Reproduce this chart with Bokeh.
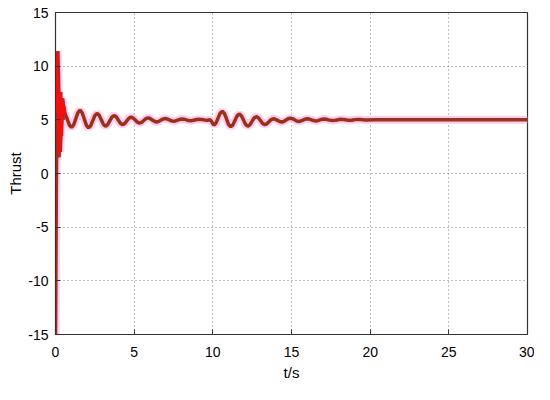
from bokeh.plotting import figure
from bokeh.models import Range1d, FixedTicker, PrintfTickFormatter
from bokeh.embed import file_html
from bokeh.resources import INLINE

# Main response (brown)
t_main = [0.0, 0.06, 0.15, 0.30, 0.45, 0.55, 0.62, 0.75, 0.885,
          1.02, 1.155, 1.29, 1.425, 1.56, 1.695, 1.83, 1.965,
          2.10, 2.235, 2.37, 2.505, 2.64, 2.775, 2.91, 3.045,
          3.18, 3.315, 3.45, 3.585, 3.72, 3.855, 3.99, 4.125,
          4.26, 4.395, 4.53, 4.665, 4.80, 4.935, 5.07, 5.205,
          5.34, 5.475, 5.61, 5.745, 5.88, 6.015, 6.15, 6.285,
          6.42, 6.555, 6.69, 6.825, 6.96, 7.095, 7.23, 7.365,
          7.50, 7.635, 7.77, 7.905, 8.04, 8.175, 8.31, 8.445,
          8.58, 8.715, 8.85, 8.985, 9.12, 9.255, 9.39, 9.525,
          9.66, 9.85,
          10.06, 10.195, 10.33, 10.465, 10.60, 10.735, 10.87, 11.005,
          11.14, 11.275, 11.41, 11.545, 11.68, 11.815, 11.95, 12.085,
          12.22, 12.355, 12.49, 12.625, 12.76, 12.895, 13.03, 13.165,
          13.30, 13.435, 13.57, 13.705, 13.84, 13.975, 14.11, 14.245,
          14.38, 14.515, 14.65, 14.785, 14.92, 15.055, 15.19, 15.325,
          15.46, 15.595, 15.73, 15.865, 16.00, 16.135, 16.27, 16.405,
          16.54, 16.675, 16.81, 16.945, 17.08, 17.215, 17.35, 17.485,
          17.62, 17.755, 17.89, 18.025, 18.16, 18.295, 18.43, 18.565,
          18.70, 18.835, 18.97, 19.105, 19.24, 19.375, 19.51, 19.645,
          19.78, 20.3, 25.0, 30.0]
y_main = [-16.0, 0.0, 11.4, 2.0, 7.0, 5.8, 5.5, 5.05, 4.5,
          4.30, 4.53, 5.10, 5.67, 5.90, 5.66, 5.08, 4.49,
          4.25, 4.45, 4.93, 5.40, 5.60, 5.42, 5.00, 4.58,
          4.40, 4.55, 4.90, 5.25, 5.40, 5.28, 4.98, 4.68,
          4.55, 4.65, 4.90, 5.15, 5.25, 5.17, 4.98, 4.78,
          4.70, 4.77, 4.94, 5.11, 5.18, 5.12, 4.99, 4.86,
          4.80, 4.85, 4.96, 5.07, 5.12, 5.08, 5.00, 4.91,
          4.87, 4.90, 4.98, 5.05, 5.08, 5.06, 5.00, 4.94,
          4.92, 4.94, 4.99, 5.03, 5.05, 5.04, 5.01, 4.97,
          4.96, 5.00,
          4.50, 4.69, 5.15, 5.61, 5.80, 5.59, 5.08, 4.56,
          4.35, 4.53, 4.95, 5.37, 5.55, 5.38, 4.98, 4.57,
          4.40, 4.53, 4.85, 5.17, 5.30, 5.19, 4.93, 4.66,
          4.55, 4.63, 4.83, 5.02, 5.10, 5.06, 4.95, 4.84,
          4.80, 4.85, 4.98, 5.10, 5.15, 5.11, 5.00, 4.89,
          4.85, 4.89, 4.98, 5.06, 5.10, 5.07, 5.00, 4.93,
          4.90, 4.92, 4.99, 5.05, 5.07, 5.05, 5.00, 4.95,
          4.93, 4.95, 4.99, 5.03, 5.05, 5.04, 5.01, 4.97,
          4.96, 4.97, 5.00, 5.02, 5.03, 5.02, 5.01, 4.99,
          4.98, 5.00, 5.00, 5.00]

# Fast initial transient (red)
t_fast = [0.03, 0.07, 0.11, 0.15, 0.20, 0.25, 0.30, 0.35, 0.40, 0.45, 0.50, 0.55, 0.62]
y_fast = [6.0, 9.0, 11.3, 8.0, 4.0, 1.5, 5.5, 7.6, 3.5, 7.0, 5.0, 6.3, 5.5]

x_ticks = [0, 5, 10, 15, 20, 25, 30]
y_ticks = [-15, -10, -5, 0, 5, 10, 15]

p = figure(width=534, height=384, x_range=Range1d(0, 30), y_range=Range1d(-15, 15),
           output_backend="svg", toolbar_location=None,
           min_border_left=55, min_border_right=7, min_border_top=12, min_border_bottom=50)
p.background_fill_color = "white"
p.border_fill_color = "white"
p.outline_line_color = "#333333"
p.outline_line_width = 1.2

p.line(t_main, y_main, line_color="#ffc8f0", line_width=8, line_alpha=0.9)
p.line(t_main, y_main, line_color="#9a321a", line_width=3.5)
p.line(t_fast, y_fast, line_color="#f01010", line_width=3)

p.xaxis.ticker = FixedTicker(ticks=x_ticks)
p.yaxis.ticker = FixedTicker(ticks=y_ticks)
p.xaxis.formatter = PrintfTickFormatter(format="%d")
p.yaxis.formatter = PrintfTickFormatter(format="%d")
p.xaxis.axis_label = "t/s"
p.yaxis.axis_label = "Thrust"
for ax in (p.xaxis[0], p.yaxis[0]):
    ax.axis_line_color = "#333333"
    ax.major_tick_out = 0
    ax.major_tick_in = 5
    ax.major_tick_line_color = "#333333"
    ax.minor_tick_line_color = None
    ax.major_label_text_font = "Liberation Sans"
    ax.major_label_text_font_size = "14px"
    ax.major_label_text_color = "black"
    ax.axis_label_text_font = "Liberation Sans"
    ax.axis_label_text_font_size = "15px"
    ax.axis_label_text_font_style = "normal"
    ax.axis_label_text_color = "black"
p.xaxis.major_label_standoff = 12
p.xaxis.axis_label_standoff = 4
p.yaxis.major_label_standoff = 7
p.yaxis.axis_label_standoff = 1

for g in (p.xgrid[0], p.ygrid[0]):
    g.grid_line_color = "#808080"
    g.grid_line_dash = "1 3"
    g.grid_line_width = 1

open("out.html", "w").write(file_html(p, INLINE))
